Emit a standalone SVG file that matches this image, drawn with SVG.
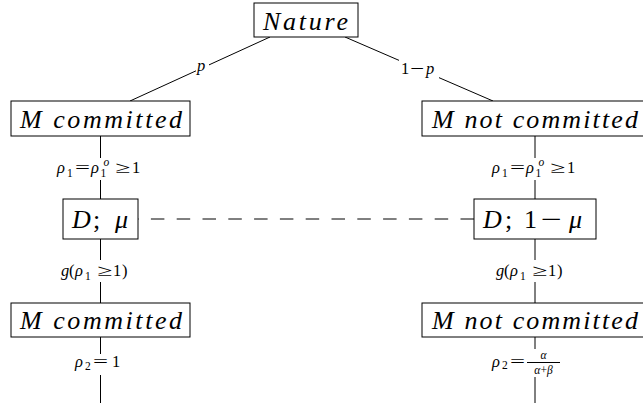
<svg xmlns="http://www.w3.org/2000/svg" width="643" height="408" viewBox="0 0 643 408">
<style>
.box{fill:#fff;stroke:#000;stroke-width:1}
.edge{stroke:#000;stroke-width:1;fill:none}
.dash{stroke:#000;stroke-width:1;fill:none;stroke-dasharray:13.5 12.3}
.bg{fill:#fff}
.m{font-family:"Liberation Serif",serif;font-style:italic;fill:#000}
.r{font-family:"Liberation Serif",serif;font-style:normal;fill:#000}
.n{font-size:26px}
.l{font-size:16.5px}
.s{font-size:11.5px}
</style>
<rect width="643" height="408" fill="#fff"/>
<g id="connectors">
  <line class="edge" x1="270" y1="37" x2="130" y2="101"/>
  <line class="edge" x1="345" y1="37" x2="493" y2="101"/>
  <line class="edge" x1="100.5" y1="136" x2="100.5" y2="199"/>
  <line class="edge" x1="100.5" y1="239" x2="100.5" y2="303"/>
  <line class="edge" x1="100.5" y1="337" x2="100.5" y2="403"/>
  <line class="edge" x1="535" y1="136" x2="535" y2="199"/>
  <line class="edge" x1="535" y1="239" x2="535" y2="303"/>
  <line class="edge" x1="535" y1="337" x2="535" y2="403"/>
  <line class="dash" x1="474" y1="219" x2="138" y2="219"/>
  <g id="label-p">
    <rect class="bg" x="196" y="61" width="13" height="16"/>
    <text class="m l" x="197" y="71">p</text>
  </g>
  <g id="label-1-p">
    <rect class="bg" x="399" y="60" width="40" height="18"/>
    <text class="r l" x="401" y="74">1</text>
    <text class="r l" x="410" y="74" textLength="14" lengthAdjust="spacingAndGlyphs">−</text>
    <text class="m l" x="426" y="74">p</text>
  </g>
  <g id="label-rho1-left">
    <rect class="bg" x="55" y="158" width="89" height="22"/>
    <text class="m l" x="57" y="173">ρ</text>
    <text class="r s" x="67" y="176.5">1</text>
    <text class="r l" x="75" y="173" textLength="15" lengthAdjust="spacingAndGlyphs">=</text>
    <text class="m l" x="91" y="173">ρ</text>
    <text class="m s" x="103.5" y="165.5">o</text>
    <text class="r s" x="100.5" y="177">1</text>
    <text class="r l" x="115" y="173" textLength="15" lengthAdjust="spacingAndGlyphs">≥</text>
    <text class="r l" x="132" y="173">1</text>
  </g>
  <g id="label-rho1-right">
    <rect class="bg" x="490" y="158" width="89" height="22"/>
    <text class="m l" x="492" y="173">ρ</text>
    <text class="r s" x="502" y="176.5">1</text>
    <text class="r l" x="510" y="173" textLength="15" lengthAdjust="spacingAndGlyphs">=</text>
    <text class="m l" x="526" y="173">ρ</text>
    <text class="m s" x="538.5" y="165.5">o</text>
    <text class="r s" x="535.5" y="177">1</text>
    <text class="r l" x="550" y="173" textLength="15" lengthAdjust="spacingAndGlyphs">≥</text>
    <text class="r l" x="567" y="173">1</text>
  </g>
  <g id="label-g-left">
    <rect class="bg" x="60" y="260" width="73" height="22"/>
    <text class="m l" x="61" y="276">g</text>
    <text class="r l" x="69" y="276">(</text>
    <text class="m l" x="75" y="276">ρ</text>
    <text class="r s" x="85" y="279.5">1</text>
    <text class="r l" x="97" y="276" textLength="15" lengthAdjust="spacingAndGlyphs">≥</text>
    <text class="r l" x="113" y="276">1</text>
    <text class="r l" x="122" y="276">)</text>
  </g>
  <g id="label-g-right">
    <rect class="bg" x="495" y="260" width="73" height="22"/>
    <text class="m l" x="496" y="276">g</text>
    <text class="r l" x="504" y="276">(</text>
    <text class="m l" x="510" y="276">ρ</text>
    <text class="r s" x="520" y="279.5">1</text>
    <text class="r l" x="532" y="276" textLength="15" lengthAdjust="spacingAndGlyphs">≥</text>
    <text class="r l" x="548" y="276">1</text>
    <text class="r l" x="557" y="276">)</text>
  </g>
  <g id="label-rho2-left">
    <rect class="bg" x="73" y="354" width="53" height="21"/>
    <text class="m l" x="75" y="367">ρ</text>
    <text class="r s" x="85" y="370">2</text>
    <text class="r l" x="93" y="367" textLength="15" lengthAdjust="spacingAndGlyphs">=</text>
    <text class="r l" x="112" y="367">1</text>
  </g>
  <g id="label-rho2-right">
    <rect class="bg" x="490" y="349" width="73" height="28"/>
    <text class="m l" x="492" y="367">ρ</text>
    <text class="r s" x="502" y="369">2</text>
    <text class="r l" x="510" y="367" textLength="15" lengthAdjust="spacingAndGlyphs">=</text>
    <line class="edge" x1="527" y1="362.5" x2="560" y2="362.5" stroke-width="0.8"/>
    <text class="m s" x="543.5" y="359" text-anchor="middle">α</text>
    <text class="s" x="543.5" y="374" text-anchor="middle"><tspan class="m">α</tspan><tspan class="r">+</tspan><tspan class="m">β</tspan></text>
  </g>
</g>
<g id="nature">
  <rect class="box" x="254" y="3" width="104" height="34"/>
  <text class="m n" x="263" y="29.5" textLength="85" lengthAdjust="spacing">Nature</text>
</g>
<g id="m-committed-1">
  <rect class="box" x="11" y="101" width="179" height="35"/>
  <text class="m n" x="20" y="128" textLength="162" lengthAdjust="spacing">M committed</text>
</g>
<g id="m-not-committed-1">
  <rect class="box" x="422" y="101" width="226" height="35"/>
  <text class="m n" x="432" y="128" textLength="206" lengthAdjust="spacing">M not committed</text>
</g>
<g id="d-mu">
  <rect class="box" x="63" y="199" width="75" height="40"/>
  <text class="m n" x="72" y="228">D</text>
  <text class="r n" x="93" y="228">;</text>
  <text class="m n" x="115" y="228">μ</text>
</g>
<g id="d-one-minus-mu">
  <rect class="box" x="474" y="199" width="122" height="40"/>
  <text class="m n" x="483" y="228">D</text>
  <text class="r n" x="505" y="228">;</text>
  <text class="r n" x="524" y="228">1</text>
  <text class="r n" x="541" y="228" textLength="21" lengthAdjust="spacingAndGlyphs">−</text>
  <text class="m n" x="569" y="228">μ</text>
</g>
<g id="m-committed-2">
  <rect class="box" x="11" y="303" width="179" height="34"/>
  <text class="m n" x="20" y="329" textLength="162" lengthAdjust="spacing">M committed</text>
</g>
<g id="m-not-committed-2">
  <rect class="box" x="422" y="303" width="226" height="34"/>
  <text class="m n" x="432" y="329" textLength="206" lengthAdjust="spacing">M not committed</text>
</g>
</svg>
